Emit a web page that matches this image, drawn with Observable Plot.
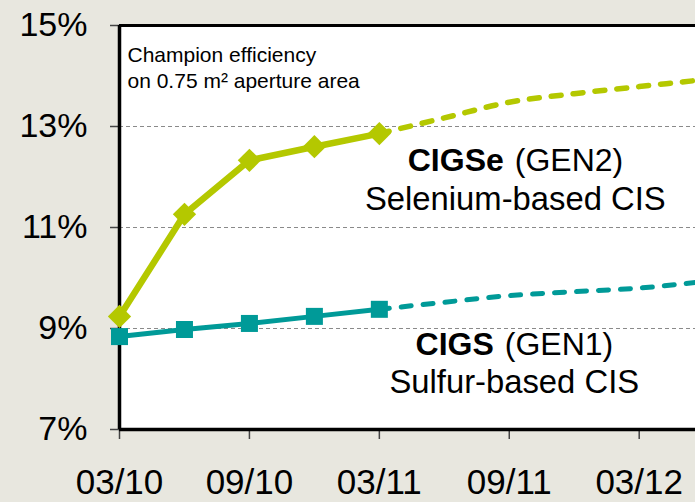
<!DOCTYPE html>
<html>
<head>
<meta charset="utf-8">
<script src="https://cdn.jsdelivr.net/npm/d3@7"></script>
<script src="https://cdn.jsdelivr.net/npm/@observablehq/plot@0.6"></script>
<style>
  html, body { margin: 0; padding: 0; background: #e8e7df; }
  #chart { width: 695px; height: 502px; }
</style>
</head>
<body>
<div id="chart"></div>
<script>
// ---- data (months since 03/2010) ----
const actualMonths = [0, 3, 6, 9, 12];
const cigseActual = [9.24, 11.26, 12.33, 12.60, 12.86];
const cigsActual  = [8.84, 8.98, 9.10, 9.24, 9.38];

const projMonths = [12, 15, 18, 21, 24, 26.6];
const cigseProj  = [12.86, 13.17, 13.48, 13.65, 13.79, 13.91];
const cigsProj   = [9.38, 9.52, 9.65, 9.73, 9.80, 9.91];

const tickMonths = [0, 6, 12, 18, 24];
const tickLabels = ["03/10", "09/10", "03/11", "09/11", "03/12"];
const yTicks = [7, 9, 11, 13, 15];
const gridValues = [9, 11, 13];

const seriesNames = ["CIGSe", "CIGS"];
const genLabels = ["(GEN2)", "(GEN1)"];
const descLabels = ["Selenium-based CIS", "Sulfur-based CIS"];
const nameX = [18, 17.54], nameY = [12.11, 8.485];
const descX = [18.28, 18.23], descY = [11.337, 7.713];
const noteText = "Champion efficiency\non 0.75 m² aperture area";

const green = "#b4c800";
const teal = "#009a98";

// ---- tables ----
const toRows = (xs, ys) => xs.map((m, i) => ({m, v: ys[i]}));
const seA = toRows(actualMonths, cigseActual);
const sA  = toRows(actualMonths, cigsActual);
const seP = toRows(projMonths, cigseProj);
const sP  = toRows(projMonths, cigsProj);
const labels = seriesNames.map((n, i) => ({
  name: n, gen: genLabels[i], desc: descLabels[i],
  nx: nameX[i], ny: nameY[i], dx: descX[i], dy: descY[i]
}));

const chart = Plot.plot({
  width: 695,
  height: 502,
  marginLeft: 119,
  marginRight: 0,
  marginTop: 25,
  marginBottom: 73,
  x: {domain: [0, 26.6]},
  y: {domain: [7, 15]},
  style: {
    background: "#e8e7df",
    fontFamily: "'Liberation Sans', Arial, Helvetica, sans-serif",
    color: "black",
    overflow: "visible"
  },
  marks: [
    Plot.frame({fill: "white", stroke: "none"}),
    Plot.ruleY(gridValues, {stroke: "#8a8a8a", strokeWidth: 1, strokeDasharray: "4,3"}),
    Plot.axisY({ticks: yTicks, tickFormat: d => d + "%", tickSize: 9, tickPadding: 23,
      fontSize: 34, stroke: "#444", strokeWidth: 1.5}),
    Plot.axisX({ticks: tickMonths, tickFormat: d => tickLabels[tickMonths.indexOf(d)],
      tickSize: 10, tickPadding: 30, fontSize: 35, stroke: "#444", strokeWidth: 1.5}),
    Plot.ruleY([15], {stroke: "black", strokeWidth: 3}),
    Plot.ruleY([7], {stroke: "black", strokeWidth: 3.5}),
    Plot.ruleX([0], {stroke: "black", strokeWidth: 3.5}),
    Plot.text([noteText], {frameAnchor: "top-left", dx: 8, dy: 18, lineAnchor: "top",
      lineHeight: 1.25, fontSize: 21, textAnchor: "start", fill: "black"}),
    // projections
    Plot.line(seP, {x: "m", y: "v", stroke: green, strokeWidth: 5.5, strokeDasharray: "10,12",
      strokeLinecap: "round", curve: "monotone-x"}),
    Plot.line(sP, {x: "m", y: "v", stroke: teal, strokeWidth: 5, strokeDasharray: "10,12",
      strokeLinecap: "round", curve: "monotone-x"}),
    // actual
    Plot.line(seA, {x: "m", y: "v", stroke: green, strokeWidth: 6.5}),
    Plot.line(sA, {x: "m", y: "v", stroke: teal, strokeWidth: 5}),
    Plot.dot(seA, {x: "m", y: "v", symbol: "diamond2", r: 10.5, fill: green, stroke: "none"}),
    Plot.dot(sA, {x: "m", y: "v", symbol: "square", r: 9.6, fill: teal, stroke: "none"}),
    // labels
    Plot.text(labels, {x: "nx", y: "ny", text: "name", textAnchor: "end", dx: -5.5,
      lineAnchor: "bottom", fontSize: 32, fontWeight: "bold", fill: "black"}),
    Plot.text(labels, {x: "nx", y: "ny", text: "gen", textAnchor: "start", dx: 5.5,
      lineAnchor: "bottom", fontSize: 32, fill: "black"}),
    Plot.text(labels, {x: "dx", y: "dy", text: "desc", textAnchor: "middle",
      lineAnchor: "bottom", fontSize: 32.8, fill: "black"})
  ]
});
document.getElementById("chart").appendChild(chart);
</script>
</body>
</html>
